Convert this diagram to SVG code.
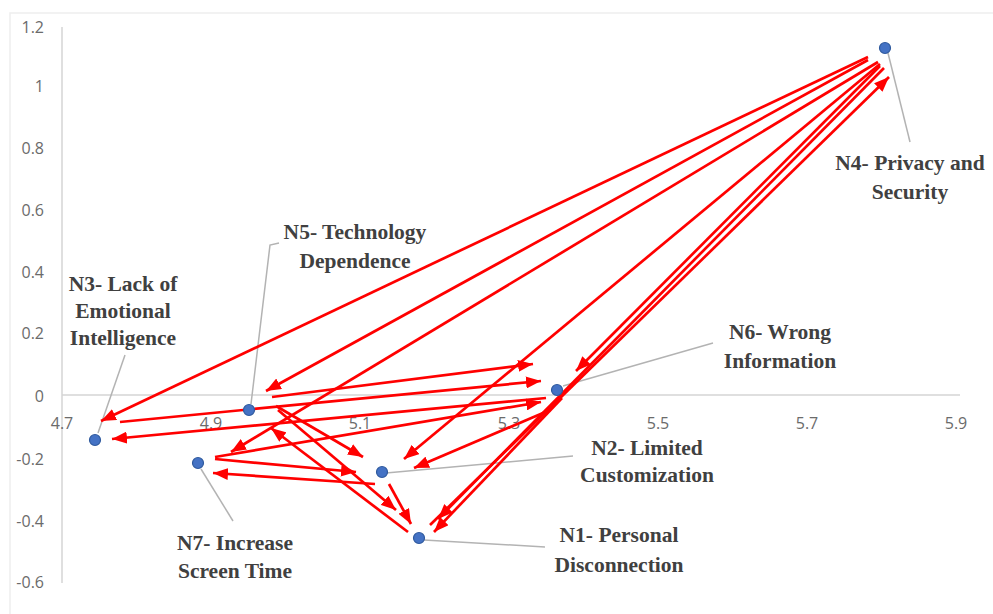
<svg xmlns="http://www.w3.org/2000/svg" width="993" height="614" viewBox="0 0 993 614">
<style>
.axis{stroke:#d4d4d4;stroke-width:1.5;fill:none}
.tick{font-family:"Open Sans","Liberation Sans",sans-serif;font-size:16px;fill:#6b6b6b}
.lead{stroke:#b3b3b3;stroke-width:1.5;fill:none}
.arr{stroke:#ff0000;stroke-width:2.7;fill:none;marker-end:url(#ah)}
.dot{fill:#4472c4;stroke:#2f5a9e;stroke-width:1.2}
.lbl{font-family:"Liberation Serif","Times New Roman",serif;font-weight:bold;font-size:21.5px;fill:#404040;text-anchor:middle}
</style>
<defs>
<marker id="ah" markerUnits="userSpaceOnUse" markerWidth="16" markerHeight="12" refX="15" refY="6" orient="auto">
<path d="M0,0 L15,6 L0,12 z" fill="#ff0000"/>
</marker>
</defs>
<rect width="993" height="614" fill="#ffffff"/>
<g id="frame"><path d="M10,614 V13 H993" stroke="#eeeeee" stroke-width="1.5" fill="none"/></g>
<g id="axes">
<line class="axis" x1="62" y1="27" x2="62" y2="583"/>
<line class="axis" x1="62" y1="395" x2="960" y2="395"/>
<g class="tick" text-anchor="end">
<text x="44" y="33">1.2</text>
<text x="44" y="92">1</text>
<text x="44" y="154">0.8</text>
<text x="44" y="216">0.6</text>
<text x="44" y="278">0.4</text>
<text x="44" y="339">0.2</text>
<text x="44" y="402">0</text>
<text x="44" y="465">-0.2</text>
<text x="44" y="527">-0.4</text>
<text x="44" y="588">-0.6</text>
</g>
<g class="tick" text-anchor="middle">
<text x="62" y="429">4.7</text>
<text x="211" y="429">4.9</text>
<text x="360" y="429">5.1</text>
<text x="509" y="429">5.3</text>
<text x="658" y="429">5.5</text>
<text x="807" y="429">5.7</text>
<text x="956" y="429">5.9</text>
</g>
</g>
<g id="leaders">
<path class="lead" d="M888,53 L910,142"/>
<path class="lead" d="M251,404 L270,245 L279,243"/>
<path class="lead" d="M98,433 L125,355"/>
<path class="lead" d="M201,469 L233,521"/>
<path class="lead" d="M386,473 L573,456"/>
<path class="lead" d="M563,386 L713,343"/>
<path class="lead" d="M424,540 L545,547"/>
</g>
<g id="connectors">
<line class="arr" x1="868" y1="57" x2="101" y2="421"/>
<line class="arr" x1="868" y1="60" x2="266" y2="391"/>
<line class="arr" x1="878" y1="62" x2="231" y2="452"/>
<line class="arr" x1="880" y1="64" x2="404" y2="459"/>
<line class="arr" x1="880" y1="66" x2="576" y2="371"/>
<line class="arr" x1="884" y1="68" x2="438" y2="519"/>
<line class="arr" x1="430" y1="525" x2="889" y2="77"/>
<line class="arr" x1="562" y1="398" x2="434" y2="532"/>
<line class="arr" x1="272" y1="397" x2="533" y2="364"/>
<line class="arr" x1="120" y1="422" x2="541" y2="381"/>
<line class="arr" x1="546" y1="398" x2="112" y2="439"/>
<line class="arr" x1="215" y1="457" x2="541" y2="402"/>
<line class="arr" x1="550" y1="410" x2="414" y2="468"/>
<line class="arr" x1="276" y1="406" x2="363" y2="457"/>
<line class="arr" x1="278" y1="410" x2="396" y2="510"/>
<line class="arr" x1="408" y1="532" x2="271" y2="428"/>
<line class="arr" x1="215" y1="459" x2="356" y2="472"/>
<line class="arr" x1="375" y1="484" x2="213" y2="473"/>
<line class="arr" x1="389" y1="484" x2="411" y2="524"/>
</g>
<g id="N4"><circle class="dot" cx="885" cy="48" r="5.5"/><text class="lbl" x="910" y="170">N4- Privacy and</text><text class="lbl" x="910" y="199">Security</text></g>
<g id="N5"><circle class="dot" cx="249" cy="410" r="5.5"/><text class="lbl" x="355" y="239">N5- Technology</text><text class="lbl" x="355" y="268">Dependence</text></g>
<g id="N3"><circle class="dot" cx="95" cy="440" r="5.5"/><text class="lbl" x="123" y="291">N3- Lack of</text><text class="lbl" x="123" y="318">Emotional</text><text class="lbl" x="123" y="345">Intelligence</text></g>
<g id="N7"><circle class="dot" cx="198" cy="463" r="5.5"/><text class="lbl" x="235" y="550">N7- Increase</text><text class="lbl" x="235" y="578">Screen Time</text></g>
<g id="N2"><circle class="dot" cx="382" cy="472" r="5.5"/><text class="lbl" x="647" y="455">N2- Limited</text><text class="lbl" x="647" y="482">Customization</text></g>
<g id="N6"><circle class="dot" cx="557" cy="390" r="5.5"/><text class="lbl" x="780" y="339">N6- Wrong</text><text class="lbl" x="780" y="368">Information</text></g>
<g id="N1"><circle class="dot" cx="419" cy="538" r="5.5"/><text class="lbl" x="619" y="542">N1- Personal</text><text class="lbl" x="619" y="572">Disconnection</text></g>
</svg>
